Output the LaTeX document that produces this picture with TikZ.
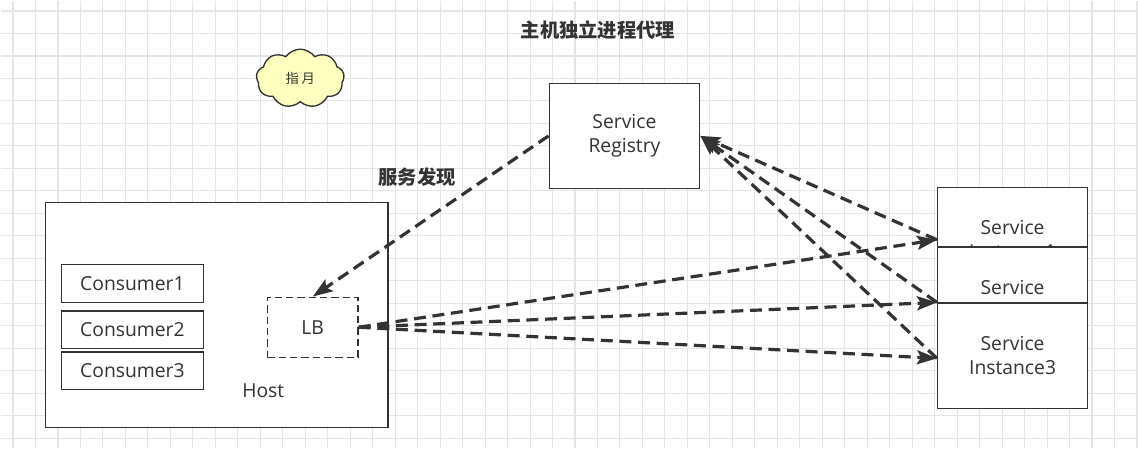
\documentclass[tikz,border=0pt]{standalone}
\usepackage{fontspec}
\setmainfont{Open Sans}
\newfontfamily\cjk{Noto Sans CJK SC}
\usepackage{tikz}
\usetikzlibrary{arrows.meta,shapes.symbols,positioning}
\definecolor{ink}{HTML}{333333}
\definecolor{cloudfill}{HTML}{FFFFC0}

\begin{document}
\begin{tikzpicture}[x=0.75pt,y=-0.75pt]
\tikzstyle{every node}=[text=ink,font=\fontsize{14.5}{18}\selectfont]
\tikzstyle{box}=[rectangle,draw=ink,fill=white,line width=1pt,align=center,inner sep=0pt]
\tikzstyle{link}=[draw=ink,line width=2.4pt,dash pattern=on 9pt off 5pt,-{Stealth[length=15pt,width=10.5pt,inset=3pt]}]
\tikzstyle{cjktext}=[font=\cjk\bfseries\fontsize{14.5}{18}\selectfont]

% background grid
\fill[white] (0,0) rectangle (1138,448);
\foreach \x in {0,...,50}
  \draw[black!10,line width=0.8pt] (12.5+22.5*\x,0) -- (12.5+22.5*\x,448);
\foreach \y in {0,...,19}
  \draw[black!10,line width=0.8pt] (0,10.5+22.5*\y) -- (1138,10.5+22.5*\y);
\useasboundingbox (0,0) rectangle (1138,448);

\node[cjktext] (title) at (598,30) {主机独立进程代理};
\node[cloud,cloud puffs=9,cloud puff arc=110,draw=ink,fill=cloudfill,line width=1pt,
      minimum width=66pt,minimum height=44pt,inner sep=0pt,
      font=\cjk\fontsize{10}{12}\selectfont] (moon) at (300,78) {指\hspace{2pt}月};

\node[box,minimum width=113pt,minimum height=79pt] (reg) at (624.5,135.5) {Service\\Registry};
\node[cjktext] (find) at (417,177) {服务发现};

% host with consumers and LB
\node[box,minimum width=257pt,minimum height=169pt] (host) at (216.5,314.5) {};
\node (hostlbl) at (263,391) {Host};
\node[box,minimum width=106.5pt,minimum height=28.5pt] (cons1) at (132,283) {Consumer1};
\node[box,minimum width=106.5pt,minimum height=28pt] (cons2) at (132,329.5) {Consumer2};
\node[box,minimum width=106.5pt,minimum height=28pt] (cons3) at (132,370.5) {Consumer3};
\node[box,dash pattern=on 5.5pt off 3pt,minimum width=68pt,minimum height=45pt] (lb) at (312.5,327) {LB};

% stacked instances
\node[box,minimum width=112.5pt,minimum height=79pt] (inst1) at (1013,239.5) {Service\\Instance1};
\node[box,minimum width=112.5pt,minimum height=79pt] (inst2) at (1013,299.5) {Service\\Instance2};
\node[box,minimum width=112.5pt,minimum height=79pt] (inst3) at (1013,355.5) {Service\\Instance3};

\draw[link] (reg.west) -- (lb.north);
\draw[link] (lb.east) -- (inst1.west);
\draw[link] (lb.east) -- ([yshift=-2pt]inst2.west);
\draw[link] (lb.east) -- ([yshift=-2pt]inst3.west);
\draw[link] (inst1.west) -- (reg.east);
\draw[link] ([yshift=-2pt]inst2.west) -- (reg.east);
\draw[link] ([yshift=-2pt]inst3.west) -- (reg.east);
\end{tikzpicture}
\end{document}
